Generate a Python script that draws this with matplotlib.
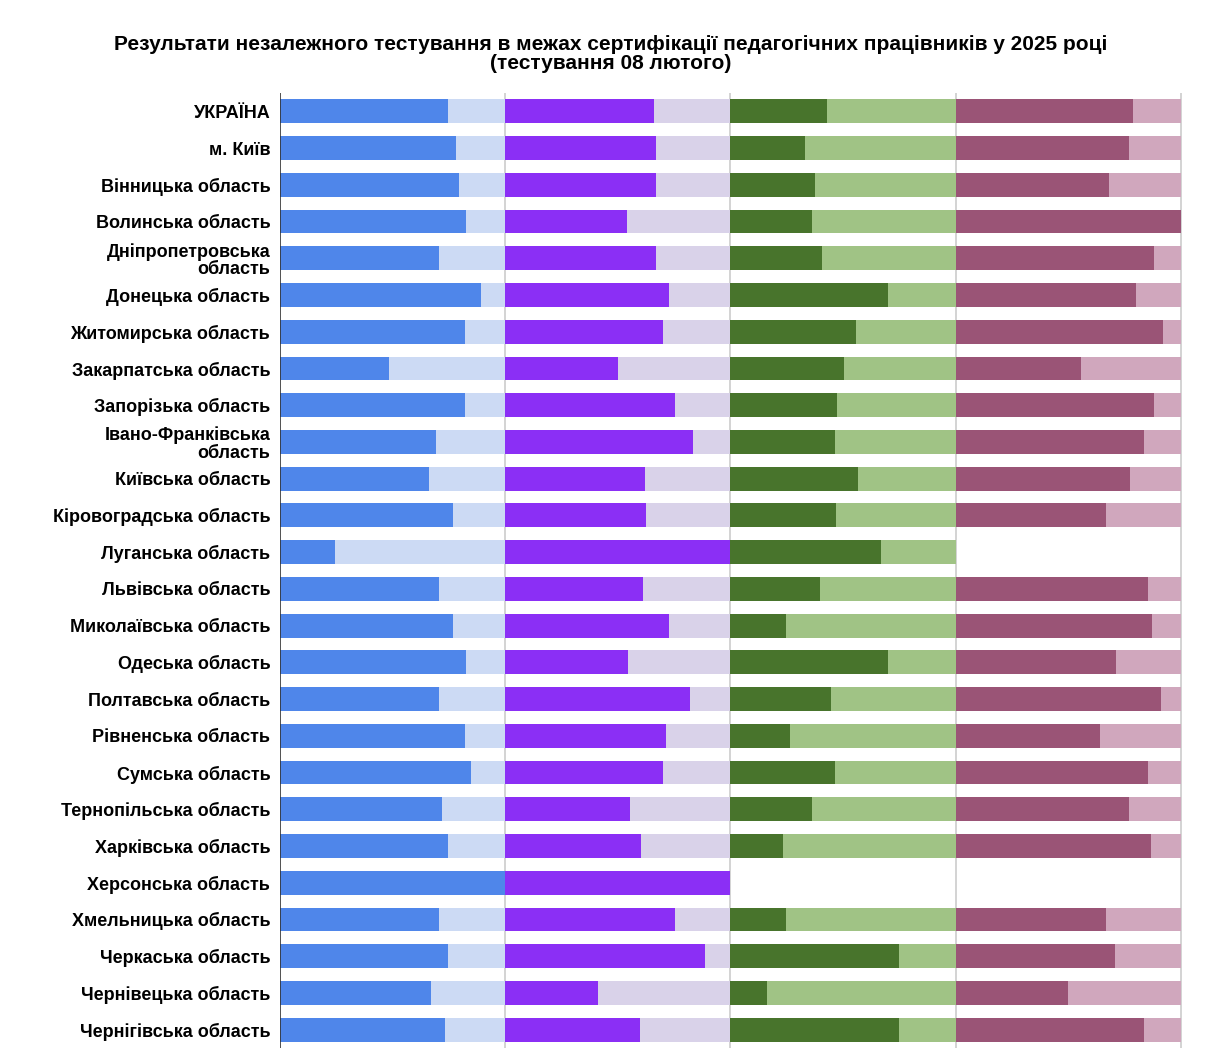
import numpy as np
import matplotlib.pyplot as plt

plt.rcParams['font.family'] = ['Liberation Sans', 'DejaVu Sans']

# ── Дані ──────────────────────────────────────────────────────────────────────
regions = ['УКРАЇНА', 'м. Київ', 'Вінницька область', 'Волинська область',
           'Дніпропетровська\nобласть', 'Донецька область', 'Житомирська область',
           'Закарпатська область', 'Запорізька область', 'Івано-Франківська\nобласть',
           'Київська область', 'Кіровоградська область', 'Луганська область',
           'Львівська область', 'Миколаївська область', 'Одеська область',
           'Полтавська область', 'Рівненська область', 'Сумська область',
           'Тернопільська область', 'Харківська область', 'Херсонська область',
           'Хмельницька область', 'Черкаська область', 'Чернівецька область',
           'Чернігівська область']

# частка (темна частина), None — немає даних
blue = [0.747, 0.782, 0.796, 0.827, 0.707, 0.893, 0.822, 0.484, 0.822, 0.693,
        0.662, 0.769, 0.244, 0.707, 0.769, 0.827, 0.707, 0.822, 0.849, 0.720,
        0.747, 1.000, 0.707, 0.747, 0.671, 0.733]
purple = [0.659, 0.668, 0.668, 0.540, 0.668, 0.726, 0.699, 0.500, 0.752, 0.832,
          0.619, 0.624, 1.000, 0.611, 0.726, 0.544, 0.819, 0.712, 0.699, 0.553,
          0.602, 1.000, 0.752, 0.889, 0.412, 0.597]
green = [0.429, 0.332, 0.376, 0.363, 0.407, 0.699, 0.558, 0.504, 0.473, 0.465,
         0.566, 0.469, 0.668, 0.398, 0.248, 0.699, 0.447, 0.265, 0.465, 0.363,
         0.235, None, 0.248, 0.748, 0.164, 0.748]
maroon = [0.787, 0.769, 0.680, 1.000, 0.880, 0.800, 0.920, 0.556, 0.880, 0.836,
          0.773, 0.667, None, 0.853, 0.871, 0.711, 0.911, 0.640, 0.853, 0.769,
          0.867, None, 0.667, 0.707, 0.498, 0.836]

panels = [(blue, '#4F86EA', '#CCDAF4'),
          (purple, '#8B2FF5', '#D9D2E9'),
          (green, '#48742C', '#A0C385'),
          (maroon, '#9A5476', '#D0A7BD')]

# ── Графік ────────────────────────────────────────────────────────────────────
fig = plt.figure(figsize=(12.22, 10.6), dpi=100, facecolor='white')
ax = fig.add_axes([280/1222, 1 - 1048/1060, 902/1222, (1048 - 93)/1060])

y = np.arange(len(regions))
h = 0.65
for k, (vals, dark, light) in enumerate(panels):
    for i, v in enumerate(vals):
        if v is None:
            continue
        ax.barh(y[i], v, left=k, height=h, color=dark, edgecolor='none', zorder=3)
        if v < 1:
            ax.barh(y[i], 1 - v, left=k + v, height=h, color=light,
                    edgecolor='none', zorder=3)

for xg in [1, 2, 3, 4]:
    ax.axvline(xg, color='#CCCCCC', linewidth=1.2, zorder=1)
ax.axvline(0, color='#333333', linewidth=1.2, zorder=4)

ax.set_xlim(0, 4.005)
ax.set_ylim(len(regions) - 0.5, -0.5)
ax.set_yticks(y)
ax.set_yticklabels(regions, fontsize=13, fontweight='bold', linespacing=1.05)
ax.tick_params(axis='y', length=0, pad=7)
ax.set_xticks([])
for s in ax.spines.values():
    s.set_visible(False)

fig.text(0.5, 1 - 54/1060,
         'Результати незалежного тестування в межах сертифікації педагогічних працівників у 2025 році\n'
         '(тестування 08 лютого)',
         ha='center', va='center', fontsize=15, fontweight='bold', linespacing=0.95)

plt.savefig('out.png', dpi=100, facecolor='white')
plt.close()
